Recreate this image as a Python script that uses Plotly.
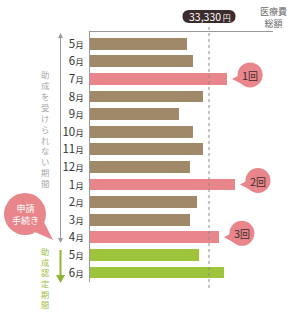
import plotly.graph_objects as go

# ---- data ----
months = ["5", "6", "7", "8", "9", "10", "11", "12", "1", "2", "3", "4", "5", "6"]
values = [27200, 28900, 38400, 31600, 24900, 28900, 31600, 28000, 40600, 30000, 28000, 36100, 30500, 37500]
periods = ["wait"] * 12 + ["aid"] * 2
counts = [None, None, "1回", None, None, None, None, None, "2回", None, None, "3回", None, None]
threshold = 33330
threshold_label = "33,330"
wait_label = "助成を受けられない期間"
aid_label = "助成認定期間"
apply_label = "申請<br>手続き"
total_label = "医療費<br>総額"

W, H = 300, 320
FONT = "Noto Sans CJK JP"
BROWN = "#a08968"
PINK = "#e8868b"
GREEN = "#9dc43b"
GRAY = "#9a9a9a"
DARK = "#3d2c2d"

def px(x):
    return x / W

def py(y):
    return 1 - y / H

colors = []
for v, p, c in zip(values, periods, counts):
    if p == "aid":
        colors.append(GREEN)
    elif c is not None:
        colors.append(PINK)
    else:
        colors.append(BROWN)

idx = list(range(len(months)))
ticktext = [f"{m}<span style='font-size:8.5px'>月</span>" for m in months]

# axis pixel layout: axis left at 90px, threshold at 209px, axis right at 273px
x_left, x_thr, x_right = 90, 209, 273
xmax = threshold * (x_right - x_left) / (x_thr - x_left)
# rows: first bar centre 43.7px, spacing 17.6px; axis from 32px to 282px
r0, dr = 43.7, 17.6
y_top, y_bot = 32, 282
ymin = (y_top - r0) / dr
ymax = (y_bot - r0) / dr

fig = go.Figure()
fig.add_trace(go.Bar(
    x=values, y=idx, orientation="h", width=0.66,
    marker=dict(color=colors, line=dict(width=0)),
    hoverinfo="skip", showlegend=False,
))

shapes = []
annotations = []

# threshold dashed line
shapes.append(dict(type="line", xref="x", yref="paper", x0=threshold, x1=threshold,
                   y0=py(288), y1=py(27), line=dict(color="#8a8a8a", width=1, dash="3px,3px"),
                   layer="above"))

# threshold pill
pill = ("M -20,6.5 L 20,6.5 Q 26.5,6.5 26.5,0 Q 26.5,-6.5 20,-6.5 "
        "L -20,-6.5 Q -26.5,-6.5 -26.5,0 Q -26.5,6.5 -20,6.5 Z")
shapes.append(dict(type="path", xref="x", yref="paper", xsizemode="pixel", ysizemode="pixel",
                   xanchor=threshold, yanchor=py(16.5), path=pill,
                   fillcolor=DARK, line=dict(width=0), layer="above"))
annotations.append(dict(xref="x", yref="paper", x=threshold, y=py(16.5), xshift=0.5,
                        text=f"{threshold_label}<span style='font-size:8px'> 円</span>",
                        showarrow=False, font=dict(family=FONT, size=10.5, color="white"),
                        xanchor="center", yanchor="middle"))

# 医療費 総額
annotations.append(dict(xref="paper", yref="paper", x=px(273), y=py(17.5), text=total_label,
                        showarrow=False, font=dict(family=FONT, size=9, color="#6a6a6a"),
                        xanchor="center", yanchor="middle", borderpad=0))

# count bubbles
for i, (v, c) in enumerate(zip(values, counts)):
    if c is None:
        continue
    cx, cy, r = 23, 4, 12.5
    shapes.append(dict(type="circle", xref="x", yref="y", xsizemode="pixel", ysizemode="pixel",
                       xanchor=v, yanchor=i, x0=cx - r, x1=cx + r, y0=cy - r, y1=cy + r,
                       fillcolor=PINK, line=dict(width=0), layer="above"))
    shapes.append(dict(type="path", xref="x", yref="y", xsizemode="pixel", ysizemode="pixel",
                       xanchor=v, yanchor=i, path="M 5,0 L 11.5,3.5 L 15.5,-5.5 Z",
                       fillcolor=PINK, line=dict(width=0), layer="above"))
    annotations.append(dict(xref="x", yref="y", x=v, y=i, xshift=cx, yshift=cy,
                            text=c[0] + "<span style='font-size:10px'>" + c[1:] + "</span>",
                            showarrow=False, font=dict(family=FONT, size=11, color=DARK),
                            xanchor="center", yanchor="middle"))

# gray double arrow
shapes.append(dict(type="line", xref="paper", yref="paper", x0=px(60.5), x1=px(60.5),
                   y0=py(36), y1=py(240), line=dict(color=GRAY, width=1)))
shapes.append(dict(type="path", xref="paper", yref="paper",
                   path=f"M {px(60.5)},{py(33)} L {px(58)},{py(38)} L {px(63)},{py(38)} Z",
                   fillcolor=GRAY, line=dict(width=0)))
shapes.append(dict(type="path", xref="paper", yref="paper",
                   path=f"M {px(60.5)},{py(243)} L {px(58)},{py(238)} L {px(63)},{py(238)} Z",
                   fillcolor=GRAY, line=dict(width=0)))

# green arrow
shapes.append(dict(type="line", xref="paper", yref="paper", x0=px(60.5), x1=px(60.5),
                   y0=py(250), y1=py(277), line=dict(color="#8fb535", width=2)))
shapes.append(dict(type="path", xref="paper", yref="paper",
                   path=f"M {px(60.5)},{py(283)} L {px(56)},{py(275)} L {px(65)},{py(275)} Z",
                   fillcolor="#8fb535", line=dict(width=0)))

# 申請手続き bubble
shapes.append(dict(type="circle", xref="paper", yref="paper",
                   x0=px(4), x1=px(46), y0=py(235), y1=py(193),
                   fillcolor=PINK, line=dict(width=0)))
shapes.append(dict(type="path", xref="paper", yref="paper",
                   path=f"M {px(53)},{py(240)} L {px(35)},{py(232)} L {px(44)},{py(222)} Z",
                   fillcolor=PINK, line=dict(width=0)))
annotations.append(dict(xref="paper", yref="paper", x=px(25), y=py(214), text=apply_label,
                        showarrow=False, font=dict(family=FONT, size=9, color="white"),
                        xanchor="center", yanchor="middle", borderpad=0))

# vertical texts (one character per line)
annotations.append(dict(xref="paper", yref="paper", x=px(45), y=py(67), text="<br>".join(wait_label),
                        showarrow=False, font=dict(family=FONT, size=8.4, color="#a8a8a8"),
                        xanchor="center", yanchor="top", borderpad=0))
annotations.append(dict(xref="paper", yref="paper", x=px(45), y=py(244.2), text="<br>".join(aid_label),
                        showarrow=False, font=dict(family=FONT, size=8.2, color="#9bbd3c"),
                        xanchor="center", yanchor="top", borderpad=0))

fig.update_layout(
    width=W, height=H, margin=dict(l=0, r=0, t=0, b=0),
    paper_bgcolor="white", plot_bgcolor="white",
    bargap=0,
    xaxis=dict(domain=[px(x_left), px(x_right)], range=[0, xmax], side="top",
               showline=True, linecolor=GRAY, linewidth=1, showgrid=False, zeroline=False,
               showticklabels=False, ticks="", fixedrange=True),
    yaxis=dict(domain=[py(y_bot), py(y_top)], range=[ymax, ymin], tickmode="array",
               tickvals=idx, ticktext=ticktext, showline=True, linecolor=GRAY, linewidth=1,
               showgrid=False, zeroline=False, ticks="outside", ticklen=3,
               tickcolor="rgba(0,0,0,0)",
               tickfont=dict(family=FONT, size=11.5, color="#333333"), fixedrange=True),
    shapes=shapes, annotations=annotations,
    font=dict(family=FONT),
)

fig.write_html("out.html", config={"displayModeBar": False})
